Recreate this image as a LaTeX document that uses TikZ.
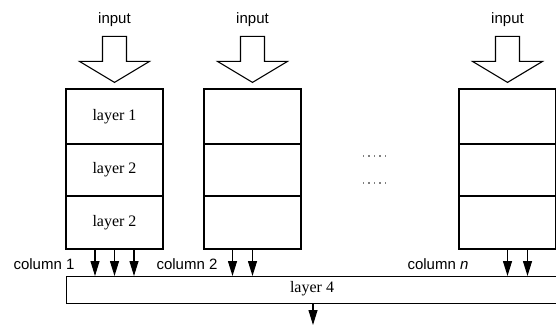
\documentclass[tikz,border=0pt]{standalone}
\usepackage{fontspec}
\setmainfont{Liberation Serif}
\setsansfont{Liberation Sans}
\usetikzlibrary{arrows.meta}
\begin{document}
\begin{tikzpicture}[x=1pt,y=-1pt,
  cell/.style={draw, line width=1.2pt, minimum width=97pt, minimum height=53pt, inner sep=0pt, font=\fontsize{16}{18}\selectfont},
  lbl/.style={font=\sffamily\fontsize{15}{17}\selectfont, inner sep=0pt},
  downarr/.style={line width=1.1pt, -{Triangle[width=9pt,length=15pt]}},
  inarrow/.pic={\draw[line width=1.1pt, fill=white] (-12,-46) -- (12,-46) -- (12,-21) -- (35,-21) -- (0,0) -- (-35,-21) -- (-12,-21) -- cycle;}
]
\useasboundingbox (0,0) rectangle (556,325);
% column 1
\node[cell, minimum height=55pt] (c1a) at (114.5,116.5) {layer 1};
\node[cell, minimum height=52pt] (c1b) at (114.5,170) {layer 2};
\node[cell, minimum height=53pt] (c1c) at (114.5,222.5) {layer 2};
% column 2
\node[cell, minimum height=55pt] (c2a) at (252.5,116.5) {};
\node[cell, minimum height=52pt] (c2b) at (252.5,170) {};
\node[cell, minimum height=53pt] (c2c) at (252.5,222.5) {};
% column n
\node[cell, minimum height=55pt] (c3a) at (507.5,116.5) {};
\node[cell, minimum height=52pt] (c3b) at (507.5,170) {};
\node[cell, minimum height=53pt] (c3c) at (507.5,222.5) {};
% layer 4
\node[cell, minimum width=494pt, minimum height=27pt, anchor=north west] (l4) at (66,276) {};
\node[font=\fontsize{16}{18}\selectfont, inner sep=0pt] (l4t) at (312,289) {layer 4};
% inputs
\node[lbl] (in1) at (114.5,20) {input};
\node[lbl] (in2) at (252.5,20) {input};
\node[lbl] (in3) at (507.5,20) {input};
\pic at (c1a.north) [yshift=6pt] {inarrow};
\pic at (c2a.north) [yshift=6pt] {inarrow};
\pic at (c3a.north) [yshift=6pt] {inarrow};
% column labels
\node[lbl] (col1) at (44,264) {column 1};
\node[lbl] (col2) at (187,264) {column 2};
\node[lbl] (col3) at (438,264) {column \textit{n}};
% small arrows
\foreach \n/\x in {a1/95, a2/114.5, a3/134, b1/232.5, b2/252.5, d1/507.5, d2/527.5}{
  \coordinate (\n) at (\x,249.5);
  \draw[downarr] (\n) -- (\n |- l4.north);
}
\coordinate (outend) at (313,325);
\draw[downarr] (l4.south -| outend) -- (outend);
% dots
\foreach \y in {156,183}{
  \foreach \i in {0,...,4}{
    \fill[gray] (363.5+5.5*\i-0.9,\y-0.9) rectangle ++(1.8,1.8);
  }
}
\end{tikzpicture}
\end{document}
